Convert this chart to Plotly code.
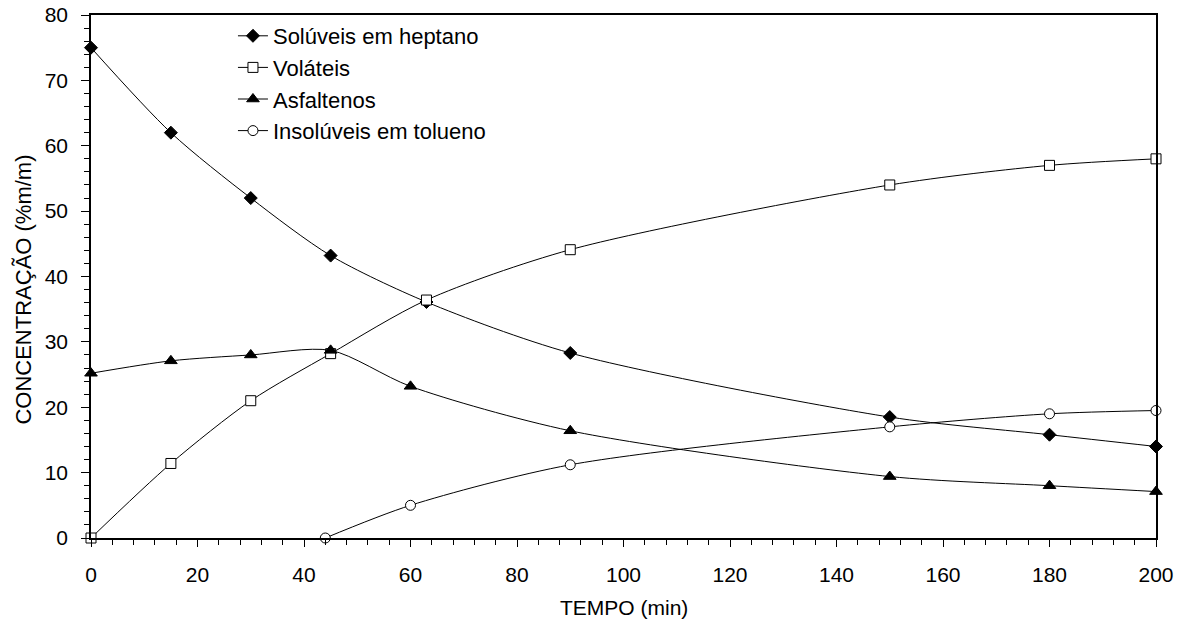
import plotly.graph_objects as go

x_hep = [0, 15, 30, 45, 63, 90, 150, 180, 200]
y_hep = [75, 62, 52, 43.2, 36.1, 28.3, 18.5, 15.8, 14.0]

x_vol = [0, 15, 30, 45, 63, 90, 150, 180, 200]
y_vol = [0, 11.4, 21.0, 28.2, 36.4, 44.1, 54.0, 57.0, 58.0]

x_asf = [0, 15, 30, 45, 60, 90, 150, 180, 200]
y_asf = [25.2, 27.1, 28.0, 28.7, 23.2, 16.4, 9.4, 8.0, 7.1]

x_ins = [44, 60, 90, 150, 180, 200]
y_ins = [0, 5.0, 11.2, 17.0, 19.0, 19.5]

series = [
    ("Solúveis em heptano", x_hep, y_hep, "diamond", "black", 10),
    ("Voláteis", x_vol, y_vol, "square", "white", 10),
    ("Asfaltenos", x_asf, y_asf, "triangle-up", "black", 11),
    ("Insolúveis em tolueno", x_ins, y_ins, "circle", "white", 10),
]

fig = go.Figure()
for name, xs, ys, sym, fill, sz in series:
    fig.add_trace(go.Scatter(
        x=xs, y=ys, name=name, mode="lines+markers",
        line=dict(color="black", width=1, shape="spline", smoothing=0.8),
        marker=dict(symbol=sym, size=sz, color=fill, line=dict(color="black", width=1)),
        cliponaxis=False,
    ))

font = "Liberation Sans, Arial, sans-serif"
fig.update_layout(
    width=1184, height=620,
    paper_bgcolor="white", plot_bgcolor="white",
    margin=dict(l=91, r=28, t=15, b=82, autoexpand=False),
    font=dict(family=font, size=21, color="black"),
    showlegend=True,
    legend=dict(x=0.1333, y=1.0, xanchor="left", yanchor="top",
                bgcolor="rgba(0,0,0,0)", font=dict(size=22), tracegroupgap=0,
                itemwidth=30),
    xaxis=dict(
        range=[0, 200], dtick=20, tick0=0, automargin=False,
        showgrid=False, zeroline=False,
        showline=True, linecolor="black", linewidth=1.5, mirror=True,
        ticks="outside", ticklen=7, tickwidth=1, tickcolor="black",
        minor=dict(dtick=4, ticks="outside", ticklen=5, tickcolor="black", showgrid=False),
        tickfont=dict(size=21), ticklabelstandoff=10, ticklabeloverflow="allow",
    ),
    yaxis=dict(
        range=[0, 80], dtick=10, tick0=0, automargin=False,
        showgrid=False, zeroline=False,
        showline=True, linecolor="black", linewidth=1.5, mirror=True,
        ticks="outside", ticklen=8, tickwidth=1, tickcolor="black",
        minor=dict(dtick=2, ticks="outside", ticklen=5, tickcolor="black", showgrid=False),
        tickfont=dict(size=21), ticklabelstandoff=9, ticklabeloverflow="allow",
    ),
    annotations=[
        dict(text="TEMPO (min)", xref="paper", yref="paper", x=0.5, y=-0.132,
             xanchor="center", yanchor="middle", showarrow=False, font=dict(size=21)),
        dict(text="CONCENTRAÇÃO (%m/m)", xref="paper", yref="paper", x=-0.0629, y=0.475,
             xanchor="center", yanchor="middle", textangle=-90, showarrow=False,
             font=dict(size=22)),
    ],
)

fig.write_html("out.html", config={"displayModeBar": False},
               post_script="document.body.style.margin='0';")
